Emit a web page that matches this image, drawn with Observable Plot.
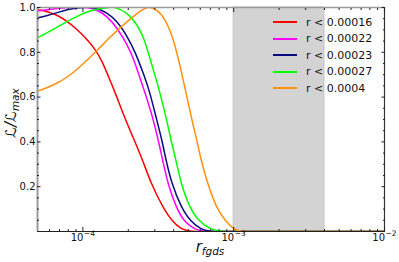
<!DOCTYPE html>
<html><head><meta charset="utf-8">
<script src="https://cdn.jsdelivr.net/npm/d3@7"></script>
<script src="https://cdn.jsdelivr.net/npm/@observablehq/plot@0.6"></script>
<style>
body{margin:0;background:#fff;font-family:"DejaVu Sans",sans-serif;}
#wrap{position:relative;width:399px;height:262px;}
#legend{position:absolute;left:273px;top:14px;font-size:11px;color:#111;font-family:"DejaVu Sans",sans-serif;}
.row{display:flex;align-items:center;height:16.5px;white-space:nowrap;}
.sw{width:24px;height:2px;margin-right:9px;}
</style></head><body><div id="wrap"><div id="legend"></div></div>
<script>
const seriesNames = ["r < 0.00016", "r < 0.00022", "r < 0.00023", "r < 0.00027", "r < 0.0004"];
const seriesColors = ["#ff0000", "#ff00ff", "#0a0a80", "#00ff00", "#ff9010"];

const rRed = [5.0e-5, 5.8e-5, 6.76e-5, 7.87e-5, 9.17e-5, 1.068e-4, 1.212e-4, 1.342e-4, 1.46e-4, 1.619e-4, 1.886e-4, 2.197e-4, 2.496e-4, 2.833e-4, 3.386e-4, 3.944e-4, 4.477e-4, 4.98e-4, 5.6e-4, 7e-4, 1e-3, 2e-3, 5e-3, 1e-2];
const LRed = [0.99, 0.983, 0.966, 0.939, 0.902, 0.857, 0.812, 0.76, 0.70, 0.629, 0.51, 0.406, 0.317, 0.213, 0.108, 0.042, 0.012, 0.002, 0, 0, 0, 0, 0, 0];

const rMagenta = [5.0e-5, 5.8e-5, 6.76e-5, 7.87e-5, 9.45e-5, 1.068e-4, 1.244e-4, 1.448e-4, 1.688e-4, 1.965e-4, 2.177e-4, 2.349e-4, 2.558e-4, 2.907e-4, 3.166e-4, 3.386e-4, 3.654e-4, 4.148e-4, 4.707e-4, 5.483e-4, 6.073e-4, 7e-4, 1e-3, 2e-3, 5e-3, 1e-2];
const LMagenta = [0.984, 0.99, 0.996, 1.0, 1.002, 1.0, 0.99, 0.961, 0.909, 0.835, 0.768, 0.70, 0.629, 0.51, 0.406, 0.317, 0.213, 0.108, 0.042, 0.012, 0.002, 0, 0, 0, 0, 0];

const rNavy = [5.0e-5, 5.8e-5, 6.76e-5, 7.87e-5, 9.17e-5, 1.10e-4, 1.244e-4, 1.448e-4, 1.688e-4, 1.965e-4, 2.23e-4, 2.535e-4, 2.76e-4, 3.057e-4, 3.35e-4, 3.561e-4, 3.884e-4, 4.477e-4, 5.213e-4, 6.073e-4, 6.76e-4, 8e-4, 1.2e-3, 2e-3, 5e-3, 1e-2];
const LNavy = [0.954, 0.964, 0.977, 0.991, 0.999, 1.002, 0.997, 0.976, 0.939, 0.872, 0.80, 0.70, 0.629, 0.51, 0.406, 0.317, 0.213, 0.108, 0.042, 0.01, 0.001, 0, 0, 0, 0, 0];

const rGreen = [5.0e-5, 5.8e-5, 6.76e-5, 7.87e-5, 9.17e-5, 1.068e-4, 1.244e-4, 1.448e-4, 1.66e-4, 1.965e-4, 2.289e-4, 2.558e-4, 2.76e-4, 3.057e-4, 3.215e-4, 3.561e-4, 3.843e-4, 4.148e-4, 4.477e-4, 5.08e-4, 5.918e-4, 7.07e-4, 7.87e-4, 9e-4, 1.3e-3, 2e-3, 5e-3, 1e-2];
const LGreen = [0.865, 0.887, 0.912, 0.939, 0.961, 0.981, 0.993, 1.0, 1.003, 0.977, 0.925, 0.86, 0.78, 0.68, 0.629, 0.51, 0.406, 0.317, 0.213, 0.108, 0.042, 0.01, 0.002, 0, 0, 0, 0, 0];

const rOrange = [5.0e-5, 6.36e-5, 7.99e-5, 9.74e-5, 1.23e-4, 1.47e-4, 1.766e-4, 2.177e-4, 2.535e-4, 2.75e-4, 3.057e-4, 3.47e-4, 4.042e-4, 4.636e-4, 5.35e-4, 5.715e-4, 6.073e-4, 6.726e-4, 7.636e-4, 8.89e-4, 1.009e-3, 1.084e-3, 1.2e-3, 1.6e-3, 2.5e-3, 5e-3, 1e-2];
const LOrange = [0.626, 0.652, 0.69, 0.74, 0.805, 0.86, 0.91, 0.962, 0.996, 1.003, 0.992, 0.957, 0.853, 0.674, 0.48, 0.406, 0.317, 0.213, 0.108, 0.042, 0.01, 0.002, 0, 0, 0, 0, 0];

const spanStart = [1e-3];
const spanEnd = [4e-3];

const xDomain = [5e-5, 1e-2];
const yDomain = [0, 1];
const xMajor = [1e-4, 1e-3, 1e-2];
const xTickBase = ["10", "10", "10"];
const xTickExp = ["\u22124", "\u22123", "\u22122"];
const xMinor = [6e-5, 7e-5, 8e-5, 9e-5, 2e-4, 3e-4, 4e-4, 5e-4, 6e-4, 7e-4, 8e-4, 9e-4, 2e-3, 3e-3, 4e-3, 5e-3, 6e-3, 7e-3, 8e-3, 9e-3];
const yLabelTicks = [0.2, 0.4, 0.6, 0.8, 1.0];
const yMajor = [0, 0.2, 0.4, 0.6, 0.8, 1.0];
const yMinor = [0.05, 0.1, 0.15, 0.25, 0.3, 0.35, 0.45, 0.5, 0.55, 0.65, 0.7, 0.75, 0.85, 0.9, 0.95];

const seriesR = [rRed, rMagenta, rNavy, rGreen, rOrange];
const seriesL = [LRed, LMagenta, LNavy, LGreen, LOrange];
const rows = [];
seriesNames.forEach((name, i) => {
  seriesR[i].forEach((r, j) => rows.push({series: name, r, L: seriesL[i][j]}));
});

const blank = () => "";
const tickCol = "#222";

const svg = Plot.plot({
  width: 399,
  height: 262,
  marginLeft: 37,
  marginRight: 15,
  marginTop: 7,
  marginBottom: 31,
  style: {fontFamily: "DejaVu Sans, sans-serif", fontSize: "10px", color: "#111", background: "#fff"},
  x: {type: "log", domain: xDomain, label: null},
  y: {domain: yDomain, label: null},
  color: {domain: seriesNames, range: seriesColors},
  marks: [
    Plot.rect(spanStart, {x1: d => d, x2: (d, i) => spanEnd[i], fill: "#d3d3d3", stroke: "#c2c2c2", strokeWidth: 1}),
    Plot.line(rows, {x: "r", y: "L", z: "series", stroke: "series", curve: "basis", strokeWidth: 1.5, clip: true}),
    // frame spines
    Plot.ruleY([yDomain[0]], {stroke: "#222", strokeWidth: 1.2}),
    Plot.ruleY([yDomain[1]], {stroke: "#9a9a9a", strokeWidth: 1.5}),
    Plot.ruleX([xDomain[0]], {stroke: "#9a9a9a", strokeWidth: 2}),
    Plot.ruleX([xDomain[1]], {stroke: "#333", strokeWidth: 1.2}),
    // inward ticks
    Plot.axisX(xMajor, {anchor: "bottom", tickSize: -4, tickFormat: blank, stroke: tickCol}),
    Plot.axisX(xMinor, {anchor: "bottom", tickSize: -2, tickFormat: blank, stroke: tickCol}),
    Plot.axisX(xMajor, {anchor: "top", tickSize: -4, tickFormat: blank, stroke: tickCol}),
    Plot.axisX(xMinor, {anchor: "top", tickSize: -2, tickFormat: blank, stroke: tickCol}),
    Plot.axisY(yMajor, {anchor: "left", tickSize: -3.5, tickFormat: blank, stroke: tickCol}),
    Plot.axisY(yMinor, {anchor: "left", tickSize: -2, tickFormat: blank, stroke: tickCol}),
    Plot.axisY(yMajor, {anchor: "right", tickSize: -3.5, tickFormat: blank, stroke: tickCol}),
    Plot.axisY(yMinor, {anchor: "right", tickSize: -2, tickFormat: blank, stroke: tickCol}),
    // tick labels
    Plot.axisY(yLabelTicks, {anchor: "left", tickSize: 0, tickPadding: 2, tickFormat: d => d.toFixed(1), fontSize: 10}),
    Plot.text(xMajor, {x: d => d, text: (d, i) => xTickBase[i], frameAnchor: "bottom", lineAnchor: "top", textAnchor: "end", dy: 2, dx: 0.5, fontSize: 10, fill: "#111"}),
    Plot.text(xMajor, {x: d => d, text: (d, i) => xTickExp[i], frameAnchor: "bottom", lineAnchor: "top", textAnchor: "start", dy: -0.5, dx: 1, fontSize: 7.5, fill: "#111"})
  ]
});

document.getElementById("wrap").prepend(svg);

const s = d3.select(svg);
// y label
const yl = s.append("text")
  .attr("transform", "translate(16,113) rotate(-90)")
  .attr("text-anchor", "middle")
  .attr("fill", "#111")
  .style("font-family", "DejaVu Sans, sans-serif")
  .style("font-style", "italic");
yl.append("tspan").attr("font-size", 15).text("\u2112/\u2112");
yl.append("tspan").attr("font-size", 10.5).attr("dy", 3).text("max");
// x label
const xl = s.append("text")
  .attr("x", 210).attr("y", 252)
  .attr("text-anchor", "middle")
  .attr("fill", "#111")
  .style("font-family", "DejaVu Sans, sans-serif")
  .style("font-style", "italic");
xl.append("tspan").attr("font-size", 15).text("r");
xl.append("tspan").attr("font-size", 10.5).attr("dy", 3).text("fgds");

// legend
const leg = d3.select("#legend");
seriesNames.forEach((name, i) => {
  const row = leg.append("div").attr("class", "row");
  row.append("div").attr("class", "sw").style("background", seriesColors[i]);
  row.append("span").text(name);
});
</script>
</body></html>
